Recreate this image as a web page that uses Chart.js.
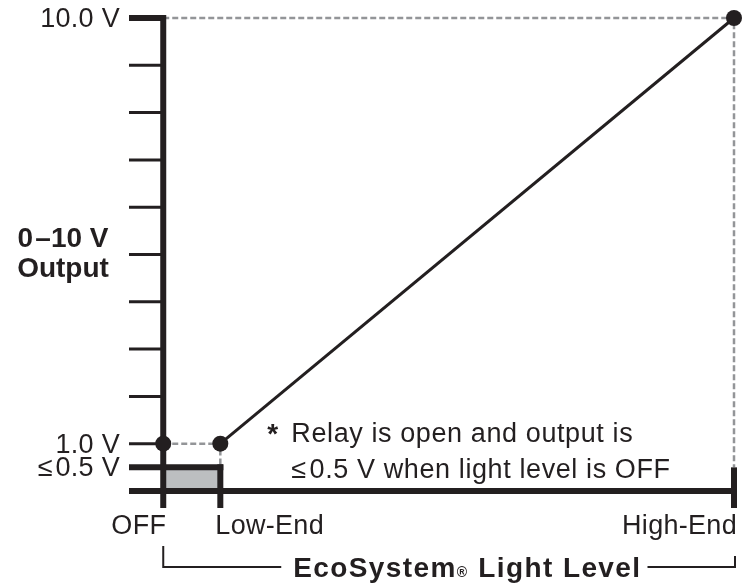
<!DOCTYPE html>
<html>
<head>
<meta charset="utf-8">
<script src="https://cdn.jsdelivr.net/npm/chart.js@4"></script>
<style>
  html, body { margin: 0; padding: 0; background: #fff; }
</style>
</head>
<body>
<canvas id="chart" width="752" height="586"></canvas>
<script>
// light level positions (percent of range)
const levelNames = ['OFF', 'Low-End', 'High-End'];
const levelValues = [0, 10, 100];
// output voltage
const voltTicks = [1, 2, 3, 4, 5, 6, 7, 8, 9, 10];
const labelTicks = [10, 1, 0.5];
const labelTexts = ['10.0 V', '1.0 V', '\u2264\u200A0.5 V'];
const relayLevel = 0.5;
const curveX = [10, 100];
const curveY = [1, 10];
const offX = [0];
const offY = [1];

const INK = '#231f20';
const GUIDE = '#939598';

function pts(xs, ys) {
    return xs.map(function (v, i) { return { x: v, y: ys[i] }; });
}

function seg(ctx, x1, y1, x2, y2, w) {
    ctx.beginPath();
    ctx.lineWidth = w;
    ctx.moveTo(x1, y1);
    ctx.lineTo(x2, y2);
    ctx.stroke();
}

const axesPlugin = {
    id: 'axes',
    beforeDatasetDraw(chart, args) {
        if (args.index !== 1) return;
        const ctx = chart.ctx;
        const x = chart.scales.x, y = chart.scales.y;
        const xl = x.getPixelForValue(x.min);
        const x0 = x.getPixelForValue(levelValues[0]);
        const xLow = x.getPixelForValue(levelValues[1]);
        const xHigh = x.getPixelForValue(levelValues[2]);
        const y0 = y.getPixelForValue(0);
        const yr = y.getPixelForValue(relayLevel);
        const below = 17;

        ctx.save();
        ctx.lineCap = 'butt';
        // relay-open region
        ctx.fillStyle = '#bcbec0';
        ctx.fillRect(x0, yr, xLow - x0, y0 - yr);

        ctx.strokeStyle = INK;
        // y ticks
        voltTicks.forEach(function (v) {
            const py = y.getPixelForValue(v);
            seg(ctx, xl, py, x0, py, v === 10 ? 6 : 3);
        });
        // <=0.5 V line across to low-end
        seg(ctx, xl, yr, xLow + 3, yr, 6);
        // x axis
        seg(ctx, xl, y0, xHigh + 3, y0, 6);
        // y axis
        seg(ctx, x0, y.getPixelForValue(10) - 3, x0, y0 + below, 6);
        // low-end / high-end ticks
        seg(ctx, xLow, yr - 3, xLow, y0 + below, 6);
        seg(ctx, xHigh, yr, xHigh, y0 + below, 6);
        ctx.restore();
    },
    afterDraw(chart) {
        const ctx = chart.ctx;
        const x = chart.scales.x, y = chart.scales.y;
        const xl = x.getPixelForValue(x.min);
        const x0 = x.getPixelForValue(levelValues[0]);
        const xLow = x.getPixelForValue(levelValues[1]);
        const xHigh = x.getPixelForValue(levelValues[2]);
        const y0 = y.getPixelForValue(0);
        const fam = '"Liberation Sans", Arial, sans-serif';

        ctx.save();
        ctx.fillStyle = INK;
        ctx.strokeStyle = INK;
        ctx.textBaseline = 'alphabetic';
        ctx.letterSpacing = '0.3px';

        // y labels
        ctx.font = '27px ' + fam;
        ctx.textAlign = 'right';
        labelTicks.forEach(function (v, i) {
            ctx.fillText(labelTexts[i], xl - 9, y.getPixelForValue(v) + 9);
        });

        // x labels
        const lb = y0 + 43;
        ctx.textAlign = 'right';
        ctx.fillText(levelNames[0], x0 + 3, lb);
        ctx.textAlign = 'left';
        ctx.fillText(levelNames[1], xLow - 5, lb);
        ctx.textAlign = 'right';
        ctx.fillText(levelNames[2], xHigh + 3, lb);

        // y title
        ctx.letterSpacing = '0px';
        ctx.font = 'bold 28px ' + fam;
        ctx.textAlign = 'center';
        const ym = y.getPixelForValue(5);
        ctx.fillText('0\u200A\u201310 V', xl - 66, ym - 8);
        ctx.fillText('Output', xl - 66, ym + 22);

        // note
        const nx = xLow + 71;
        const ny = y.getPixelForValue(1) - 2;
        ctx.textAlign = 'left';
        ctx.font = 'bold 28px ' + fam;
        ctx.fillText('*', nx - 24, ny + 1);
        ctx.letterSpacing = '0.6px';
        ctx.font = '27px ' + fam;
        ctx.fillText('Relay is open and output is', nx, ny);
        ctx.fillText('\u2264\u200A0.5 V when light level is OFF', nx, ny + 36);

        // x title with bracket
        const tb = y0 + 86;
        const by = y0 + 76;
        const p1 = 'EcoSystem', reg = '\u00AE', p2 = ' Light Level';
        ctx.letterSpacing = '1.4px';
        ctx.font = 'bold 28px ' + fam;
        const w1 = ctx.measureText(p1).width;
        const w3 = ctx.measureText(p2).width;
        ctx.font = 'bold 14px ' + fam;
        ctx.letterSpacing = '0px';
        const w2 = ctx.measureText(reg).width + 2;
        const tx = x0 + 130;
        ctx.fillText(reg, tx + w1, tb);
        ctx.letterSpacing = '1.4px';
        ctx.font = 'bold 28px ' + fam;
        ctx.fillText(p1, tx, tb);
        ctx.fillText(p2, tx + w1 + w2, tb);
        const tEnd = tx + w1 + w2 + w3;

        ctx.lineWidth = 2;
        ctx.beginPath();
        ctx.moveTo(x0, by - 21);
        ctx.lineTo(x0, by);
        ctx.lineTo(tx - 12, by);
        ctx.moveTo(tEnd + 6, by);
        ctx.lineTo(xHigh + 1, by);
        ctx.lineTo(xHigh + 1, by - 11);
        ctx.stroke();
        ctx.restore();
    }
};

new Chart(document.getElementById('chart').getContext('2d'), {
    type: 'scatter',
    data: {
        datasets: [{
            data: pts(curveX, curveY),
            showLine: true,
            borderColor: INK,
            borderWidth: 3,
            pointRadius: 8,
            pointBackgroundColor: INK,
            pointBorderWidth: 0,
            clip: false,
            order: 1
        }, {
            data: pts(offX, offY),
            pointRadius: 8,
            pointBackgroundColor: INK,
            pointBorderWidth: 0,
            clip: false,
            order: 1
        }, {
            data: pts([0, curveX[1], curveX[1]], [curveY[1], curveY[1], relayLevel]),
            showLine: true,
            borderColor: GUIDE,
            borderWidth: 2.5,
            borderDash: [6, 3],
            pointRadius: 0,
            clip: false,
            order: 2
        }, {
            data: pts([offX[0], curveX[0], curveX[0]], [offY[0], curveY[0], relayLevel]),
            showLine: true,
            borderColor: GUIDE,
            borderWidth: 2.5,
            borderDash: [6, 3],
            pointRadius: 0,
            clip: false,
            order: 2
        }]
    },
    options: {
        responsive: false,
        animation: false,
        layout: { padding: { left: 129, right: 18, top: 18, bottom: 95 } },
        plugins: {
            legend: { display: false },
            tooltip: { enabled: false }
        },
        scales: {
            x: { type: 'linear', min: -6, max: 100, display: false },
            y: { type: 'linear', min: 0, max: 10, display: false }
        }
    },
    plugins: [axesPlugin]
});
</script>
</body>
</html>
